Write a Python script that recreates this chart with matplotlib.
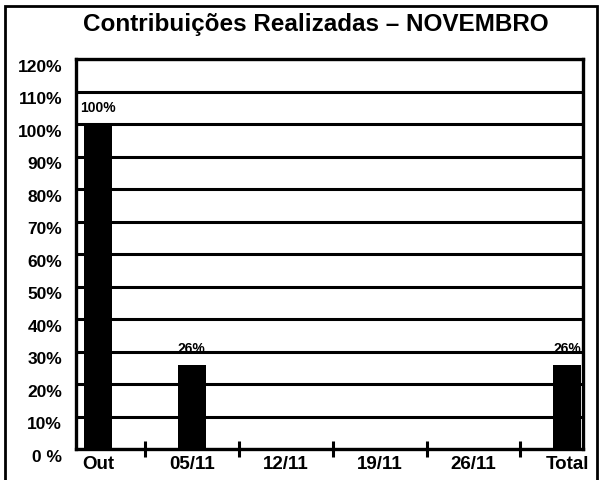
import matplotlib
matplotlib.use('Agg')
import matplotlib.pyplot as plt
from matplotlib.patches import Rectangle
from matplotlib.transforms import ScaledTranslation

# data
categories = ['Out', '05/11', '12/11', '19/11', '26/11', 'Total']
values = [100, 26, 0, 0, 0, 26]
labels = ['100%', '26%', '', '', '', '26%']
yticks = [0, 10, 20, 30, 40, 50, 60, 70, 80, 90, 100, 110, 120]
ytick_labels = ['0 %'] + [f'{v}%' for v in yticks[1:]]

plt.rcParams['font.family'] = ['Liberation Sans', 'DejaVu Sans']

W, H = 600, 481
fig = plt.figure(figsize=(W / 100, H / 100), dpi=100)
ax = fig.add_axes([76 / W, 1 - 450 / H, 507 / W, 390 / H])

x = list(range(len(categories)))
ax.bar(x, values, width=0.3, color='black', zorder=3)

ax.set_ylim(0, 120)
ax.set_xlim(-0.233, 5.166)
ax.set_yticks(yticks)
ax.set_yticklabels(ytick_labels, fontsize=12.5, fontweight='bold')
ax.tick_params(axis='y', length=0, pad=10)
# labels sit a little below their gridlines in the original
for t in ax.get_yticklabels():
    t.set_transform(t.get_transform() + ScaledTranslation(0, -4 / 72, fig.dpi_scale_trans))
ax.yaxis.grid(True, color='black', linewidth=2.2)
ax.set_axisbelow(True)

# category labels centred, ticks on the boundaries
ax.set_xticks(x)
ax.set_xticklabels(categories, fontsize=13.5, fontweight='bold')
ax.tick_params(axis='x', which='major', length=0, pad=4)
ax.set_xticks([i + 0.5 for i in x[:-1]], minor=True)
ax.tick_params(axis='x', which='minor', direction='inout', length=11, width=2.2)

for s in ax.spines.values():
    s.set_linewidth(2.4)
    s.set_color('black')

for i, (v, lab) in enumerate(zip(values, labels)):
    if not lab:
        continue
    ax.annotate(lab, (i, v), xytext=(0, 7), textcoords='offset points',
                ha='center', va='bottom', fontsize=10, fontweight='bold')

fig.text(316 / W, 1 - 24 / H, 'Contribuições Realizadas – NOVEMBRO',
         ha='center', va='center', fontsize=17.5, fontweight='bold')

fig.patches.append(Rectangle((5 / W, -3 / H), 592 / W, (H - 4) / H,
                             transform=fig.transFigure, fill=False,
                             edgecolor='black', linewidth=2))

fig.savefig('out.png', dpi=100, facecolor='white')
